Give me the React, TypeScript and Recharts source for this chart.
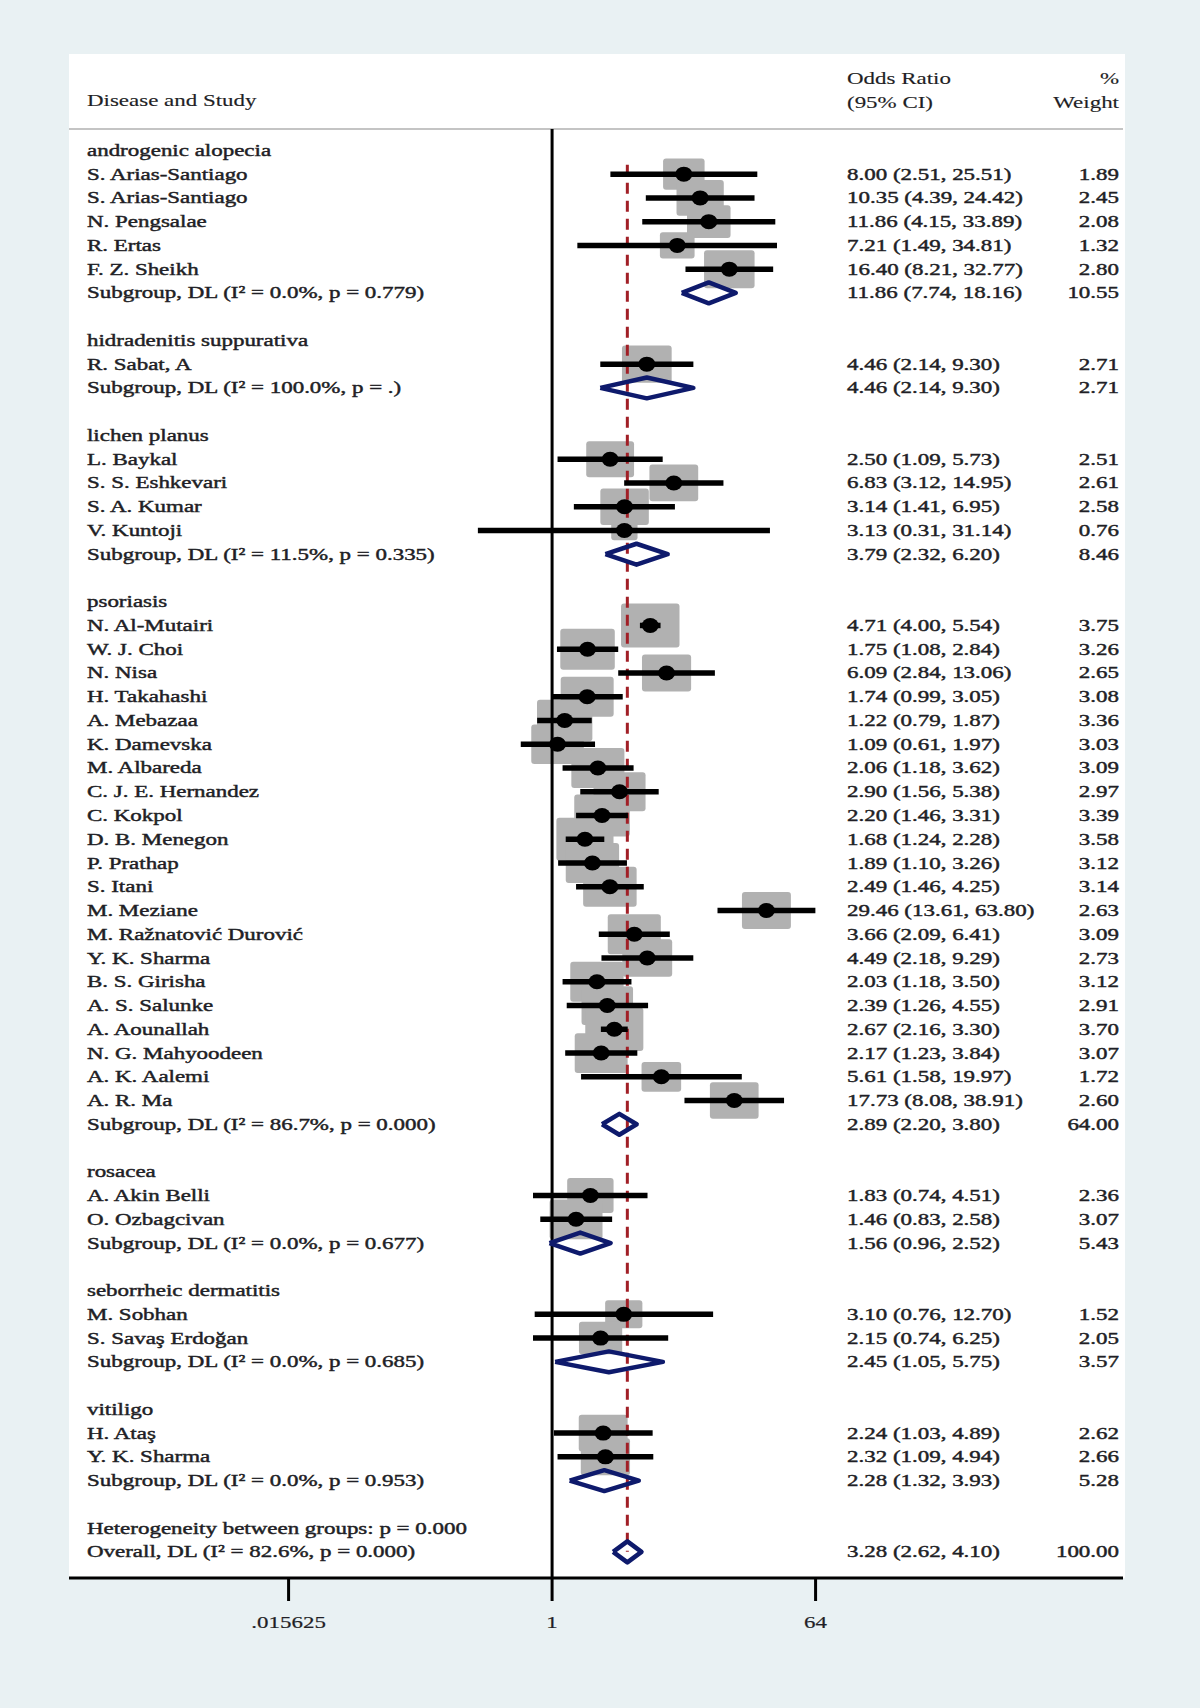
import React from 'react';
import { ScatterChart, Scatter, XAxis, YAxis } from 'recharts';

// ---------- data ----------
const groupNames = [
  'androgenic alopecia',
  'hidradenitis suppurativa',
  'lichen planus',
  'psoriasis',
  'rosacea',
  'seborrheic dermatitis',
  'vitiligo',
];
const groupSizes = [5, 1, 4, 21, 2, 2, 2];

const studyNames = [
  'S. Arias-Santiago', 'S. Arias-Santiago', 'N. Pengsalae', 'R. Ertas', 'F. Z. Sheikh',
  'R. Sabat, A',
  'L. Baykal', 'S. S. Eshkevari', 'S. A. Kumar', 'V. Kuntoji',
  'N. Al-Mutairi', 'W. J. Choi', 'N. Nisa', 'H. Takahashi', 'A. Mebazaa', 'K. Damevska',
  'M. Albareda', 'C. J. E. Hernandez', 'C. Kokpol', 'D. B. Menegon', 'P. Prathap', 'S. Itani',
  'M. Meziane', 'M. Ražnatović Durović', 'Y. K. Sharma', 'B. S. Girisha', 'A. S. Salunke',
  'A. Aounallah', 'N. G. Mahyoodeen', 'A. K. Aalemi', 'A. R. Ma',
  'A. Akin Belli', 'O. Ozbagcivan',
  'M. Sobhan', 'S. Savaş Erdoğan',
  'H. Ataş', 'Y. K. Sharma',
];
const studyOR = [
  8.00, 10.35, 11.86, 7.21, 16.40,
  4.46,
  2.50, 6.83, 3.14, 3.13,
  4.71, 1.75, 6.09, 1.74, 1.22, 1.09, 2.06, 2.90, 2.20, 1.68, 1.89, 2.49, 29.46, 3.66, 4.49, 2.03, 2.39, 2.67, 2.17, 5.61, 17.73,
  1.83, 1.46,
  3.10, 2.15,
  2.24, 2.32,
];
const studyLo = [
  2.51, 4.39, 4.15, 1.49, 8.21,
  2.14,
  1.09, 3.12, 1.41, 0.31,
  4.00, 1.08, 2.84, 0.99, 0.79, 0.61, 1.18, 1.56, 1.46, 1.24, 1.10, 1.46, 13.61, 2.09, 2.18, 1.18, 1.26, 2.16, 1.23, 1.58, 8.08,
  0.74, 0.83,
  0.76, 0.74,
  1.03, 1.09,
];
const studyHi = [
  25.51, 24.42, 33.89, 34.81, 32.77,
  9.30,
  5.73, 14.95, 6.95, 31.14,
  5.54, 2.84, 13.06, 3.05, 1.87, 1.97, 3.62, 5.38, 3.31, 2.28, 3.26, 4.25, 63.80, 6.41, 9.29, 3.50, 4.55, 3.30, 3.84, 19.97, 38.91,
  4.51, 2.58,
  12.70, 6.25,
  4.89, 4.94,
];
const studyWeight = [
  1.89, 2.45, 2.08, 1.32, 2.80,
  2.71,
  2.51, 2.61, 2.58, 0.76,
  3.75, 3.26, 2.65, 3.08, 3.36, 3.03, 3.09, 2.97, 3.39, 3.58, 3.12, 3.14, 2.63, 3.09, 2.73, 3.12, 2.91, 3.70, 3.07, 1.72, 2.60,
  2.36, 3.07,
  1.52, 2.05,
  2.62, 2.66,
];

const subgroupHet = [
  'I² = 0.0%, p = 0.779',
  'I² = 100.0%, p = .',
  'I² = 11.5%, p = 0.335',
  'I² = 86.7%, p = 0.000',
  'I² = 0.0%, p = 0.677',
  'I² = 0.0%, p = 0.685',
  'I² = 0.0%, p = 0.953',
];
const subgroupOR = [11.86, 4.46, 3.79, 2.89, 1.56, 2.45, 2.28];
const subgroupLo = [7.74, 2.14, 2.32, 2.20, 0.96, 1.05, 1.32];
const subgroupHi = [18.16, 9.30, 6.20, 3.80, 2.52, 5.75, 3.93];
const subgroupWeight = [10.55, 2.71, 8.46, 64.00, 5.43, 3.57, 5.28];

const heterogeneityLabel = 'Heterogeneity between groups: p = 0.000';
const overallLabel = 'Overall, DL (I² = 82.6%, p = 0.000)';
const overallOR = 3.28;
const overallLo = 2.62;
const overallHi = 4.10;
const overallWeight = 100.0;

const xTicks = [0.015625, 1, 64];
const xTickLabels = ['.015625', '1', '64'];

// ---------- table built from the arrays ----------
type Row = {
  row: number;
  label: string;
  kind: 'group' | 'study' | 'sub' | 'blank' | 'het' | 'overall';
  or?: number;
  lo?: number;
  hi?: number;
  w?: number;
};

const rows: Row[] = [];
(() => {
  let r = 1;
  let s = 0;
  groupNames.forEach((g, gi) => {
    rows.push({ row: r++, label: g, kind: 'group' });
    for (let k = 0; k < groupSizes[gi]; k++, s++) {
      rows.push({ row: r++, label: studyNames[s], kind: 'study', or: studyOR[s], lo: studyLo[s], hi: studyHi[s], w: studyWeight[s] });
    }
    rows.push({ row: r++, label: 'Subgroup, DL (' + subgroupHet[gi] + ')', kind: 'sub', or: subgroupOR[gi], lo: subgroupLo[gi], hi: subgroupHi[gi], w: subgroupWeight[gi] });
    rows.push({ row: r++, label: '', kind: 'blank' });
  });
  rows.push({ row: r++, label: heterogeneityLabel, kind: 'het' });
  rows.push({ row: r++, label: overallLabel, kind: 'overall', or: overallOR, lo: overallLo, hi: overallHi, w: overallWeight });
})();

const rowTicks = rows.map((d) => d.row);
const studyRows = rows.filter((d) => d.kind === 'study');
const studyPoints = studyRows.map((d) => ({ x: d.or as number, y: d.row, w: d.w as number }));
const diamondRows = rows.filter((d) => d.kind === 'sub' || d.kind === 'overall');

const X_MIN = Math.pow(2, -11);
const X_MAX = Math.pow(2, 13);
const Y_MIN = 0.1;
const Y_MAX = 61.1;
const DIAMOND_HALF = 0.44;

// ---------- styling ----------
const SX = 1.35;
const FONT = '"Liberation Serif", "Times New Roman", serif';
const TEXT_COLOR = '#1f1f26';

function STxt({ x, y, anchor = 'start', children, size = 17, bold = 0.45 }: any) {
  return (
    <text
      transform={`translate(${x},${y}) scale(${SX},1)`}
      textAnchor={anchor}
      fontFamily={FONT}
      fontSize={size}
      fill={TEXT_COLOR}
      stroke={TEXT_COLOR}
      strokeWidth={bold}
    >
      {children}
    </text>
  );
}

const fmt = (v: number) => v.toFixed(2);

function RowTick(props: any) {
  const { y, payload } = props;
  const d = rows[(payload?.value as number) - 1];
  if (!d) return <g />;
  const base = y + 5.5;
  return (
    <g>
      {d.label ? <STxt x={87} y={base}>{d.label}</STxt> : null}
      {d.or !== undefined ? (
        <STxt x={847} y={base}>{`${fmt(d.or)} (${fmt(d.lo as number)}, ${fmt(d.hi as number)})`}</STxt>
      ) : null}
      {d.w !== undefined ? (
        <STxt x={1119} y={base} anchor="end">{fmt(d.w)}</STxt>
      ) : null}
    </g>
  );
}

function XTick(props: any) {
  const { x, payload } = props;
  const i = xTicks.indexOf(payload?.value);
  return <STxt x={x} y={1628} anchor="middle" bold={0.2}>{i >= 0 ? xTickLabels[i] : ''}</STxt>;
}

const SquareShape = (props: any) => {
  const { cx, cy, payload } = props;
  const h = 22.7 * Math.sqrt(payload.w);
  const w = 1.33 * h;
  return <rect x={cx - w / 2} y={cy - h / 2} width={w} height={h} rx={3} ry={3} fill="#b1b1b1" />;
};

const DotShape = (props: any) => {
  const { cx, cy } = props;
  return <ellipse cx={cx} cy={cy} rx={8.5} ry={7.5} fill="#000" />;
};

const NoShape = () => <g />;

export default function App() {
  return (
    <div
      style={{
        position: 'absolute',
        left: 0,
        top: 0,
        width: 1200,
        height: 1708,
        background: '#e9f1f3',
        overflow: 'hidden',
      }}
    >
      <div
        style={{
          position: 'absolute',
          left: 69,
          top: 54,
          width: 1056,
          height: 1524,
          background: '#ffffff',
        }}
      />
      <svg
        width={1200}
        height={130}
        style={{ position: 'absolute', left: 0, top: 0 }}
      >
        <STxt x={87} y={106} bold={0.15}>Disease and Study</STxt>
        <STxt x={847} y={84} bold={0.15}>Odds Ratio</STxt>
        <STxt x={847} y={108} bold={0.15}>(95% CI)</STxt>
        <STxt x={1119} y={84} anchor="end" bold={0.15}>%</STxt>
        <STxt x={1119} y={108} anchor="end" bold={0.15}>Weight</STxt>
      </svg>
      <div style={{ position: 'absolute', left: 0, top: 0 }}>
        <ScatterChart
          width={1200}
          height={1708}
          margin={{ top: 129, right: 77, bottom: 70, left: 68 }}
        >
          <XAxis
            type="number"
            dataKey="x"
            scale="log"
            domain={[X_MIN, X_MAX]}
            ticks={xTicks}
            interval={0}
            height={60}
            axisLine={{ stroke: '#000', strokeWidth: 3 }}
            tickLine={{ stroke: '#000', strokeWidth: 3 }}
            tickSize={23}
            tick={(p: any) => <XTick {...p} />}
          />
          <YAxis
            type="number"
            dataKey="y"
            domain={[Y_MIN, Y_MAX]}
            reversed
            ticks={rowTicks}
            interval={0}
            width={1}
            axisLine={false}
            tickLine={false}
            tick={(p: any) => <RowTick {...p} />}
          />

          {/* header separator */}
          <Scatter
            data={[{ x: X_MIN, y: Y_MIN }, { x: X_MAX, y: Y_MIN }]}
            line={{ stroke: '#c4c4c4', strokeWidth: 2 }}
            shape={NoShape}
            isAnimationActive={false}
          />

          {/* study weight squares */}
          <Scatter data={studyPoints} shape={SquareShape} isAnimationActive={false} />

          {/* line of no effect */}
          <Scatter
            data={[{ x: 1, y: Y_MIN }, { x: 1, y: Y_MAX }]}
            line={{ stroke: '#000', strokeWidth: 3 }}
            shape={NoShape}
            isAnimationActive={false}
          />

          {/* overall estimate dashed line */}
          <Scatter
            data={[{ x: overallOR, y: 1.6 }, { x: overallOR, y: 60 }]}
            line={{ stroke: '#a11f26', strokeWidth: 3, strokeDasharray: '11 7' }}
            shape={NoShape}
            isAnimationActive={false}
          />

          {/* confidence intervals */}
          {studyRows.map((d, i) => (
            <Scatter
              key={`ci-${i}`}
              data={[{ x: d.lo as number, y: d.row }, { x: d.hi as number, y: d.row }]}
              line={{ stroke: '#000', strokeWidth: 5.5 }}
              shape={NoShape}
              isAnimationActive={false}
            />
          ))}

          {/* point estimates */}
          <Scatter data={studyPoints} shape={DotShape} isAnimationActive={false} />

          {/* pooled diamonds */}
          {diamondRows.map((d, i) => (
            <Scatter
              key={`dia-${i}`}
              data={[
                { x: d.lo as number, y: d.row },
                { x: d.or as number, y: d.row - DIAMOND_HALF },
                { x: d.hi as number, y: d.row },
                { x: d.or as number, y: d.row + DIAMOND_HALF },
                { x: d.lo as number, y: d.row },
              ]}
              line={{ stroke: '#0e1a6c', strokeWidth: 4.5, strokeLinejoin: 'round' }}
              shape={NoShape}
              isAnimationActive={false}
            />
          ))}
        </ScatterChart>
      </div>
    </div>
  );
}
